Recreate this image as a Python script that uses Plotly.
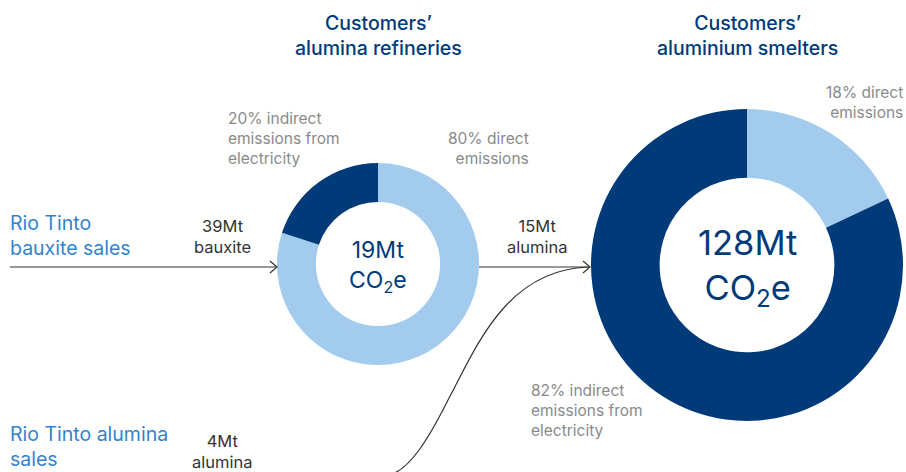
import plotly.graph_objects as go

W, H = 906, 472

# ---- data ----
segments = ["Direct emissions", "Indirect emissions from electricity"]
refinery_share = [80, 20]     # % of customers' alumina refinery emissions
smelter_share = [18, 82]      # % of customers' aluminium smelter emissions
totals_mt = [19, 128]         # Mt CO2e
stage_titles = ["Customers’<br>alumina refineries", "Customers’<br>aluminium smelters"]
flows_mt = [39, 15, 4]        # bauxite, alumina (from refineries), alumina (direct sales)
flow_units = ["bauxite", "alumina", "alumina"]

NAVY = "#003a78"
LIGHT = "#a2cbee"
GREY = "#8a8a8a"
DARK = "#333333"
BLUE = "#3383cd"
FONT = "Inter"

seg_colors = [LIGHT, NAVY]

def domain(cx, cy, r):
    return dict(x=[(cx - r) / W, (cx + r) / W],
                y=[(H - cy - r) / H, (H - cy + r) / H])

fig = go.Figure()
fig.add_trace(go.Pie(labels=segments, values=refinery_share, hole=0.615, sort=False,
                     direction="clockwise", rotation=0, textinfo="none",
                     marker=dict(colors=seg_colors, line=dict(width=0)),
                     domain=domain(378, 264, 101), showlegend=False, hoverinfo="label+percent"))
fig.add_trace(go.Pie(labels=segments, values=smelter_share, hole=0.56, sort=False,
                     direction="clockwise", rotation=0, textinfo="none",
                     marker=dict(colors=seg_colors, line=dict(width=0)),
                     domain=domain(747, 265, 156), showlegend=False, hoverinfo="label+percent"))

ann = []
def txt(x, y, text, size, color, align="center", xanchor="center", weight=None):
    f = dict(family=FONT, size=size, color=color)
    if weight:
        f["weight"] = weight
    ann.append(dict(x=x, y=y, xref="x", yref="y", text=text, showarrow=False,
                    align=align, xanchor=xanchor, yanchor="middle", font=f))

# titles
txt(378, 35, stage_titles[0], 19.5, NAVY, weight=500)
txt(747, 35, stage_titles[1], 19.5, NAVY, weight=500)

# donut centres
txt(378, 266, f"{totals_mt[0]}Mt<br>CO<sub>2</sub>e", 23, NAVY)
txt(747, 267, f"{totals_mt[1]}Mt<br>CO<sub>2</sub>e", 34.5, NAVY)

# segment labels
txt(226, 138, f"{refinery_share[1]}% indirect<br>emissions from<br>electricity", 15.5, GREY, align="left", xanchor="left")
txt(531, 148, f"{refinery_share[0]}% direct<br>emissions", 15.5, GREY, align="right", xanchor="right")
txt(905, 102, f"{smelter_share[0]}% direct<br>emissions", 15.5, GREY, align="right", xanchor="right")
txt(529, 410, f"{smelter_share[1]}% indirect<br>emissions from<br>electricity", 15.5, GREY, align="left", xanchor="left")

# sources
txt(8, 235, "Rio Tinto<br>bauxite sales", 19.5, BLUE, align="left", xanchor="left")
txt(8, 446, "Rio Tinto alumina<br>sales", 19.5, BLUE, align="left", xanchor="left")

# flows
txt(222, 236, f"{flows_mt[0]}Mt<br>{flow_units[0]}", 16.5, DARK)
txt(537, 236, f"{flows_mt[1]}Mt<br>{flow_units[1]}", 16.5, DARK)
txt(222, 451, f"{flows_mt[2]}Mt<br>{flow_units[2]}", 16.5, DARK)

line = dict(color=DARK, width=1.2)
shapes = [
    dict(type="line", xref="x", yref="y", x0=10, y0=267, x1=277, y1=267, line=line),
    dict(type="path", xref="x", yref="y", path="M 270,261 L 277,267 L 270,273", line=line),
    dict(type="line", xref="x", yref="y", x0=479, y0=267, x1=590, y1=267, line=line),
    dict(type="path", xref="x", yref="y", path="M 583,261 L 590,267 L 583,273", line=line),
    dict(type="path", xref="x", yref="y",
         path="M 392,474 C 410,468 428,440 448,400 C 475,350 505,270 588,267", line=line),
]

fig.update_layout(
    width=W, height=H, margin=dict(l=0, r=0, t=0, b=0),
    paper_bgcolor="white", plot_bgcolor="rgba(0,0,0,0)",
    xaxis=dict(range=[0, W], visible=False, fixedrange=True),
    yaxis=dict(range=[H, 0], visible=False, fixedrange=True),
    annotations=ann, shapes=shapes,
)
fig.write_html("out.html", config={"displayModeBar": False},
               post_script="document.body.style.margin='0';document.body.style.overflow='hidden';")
